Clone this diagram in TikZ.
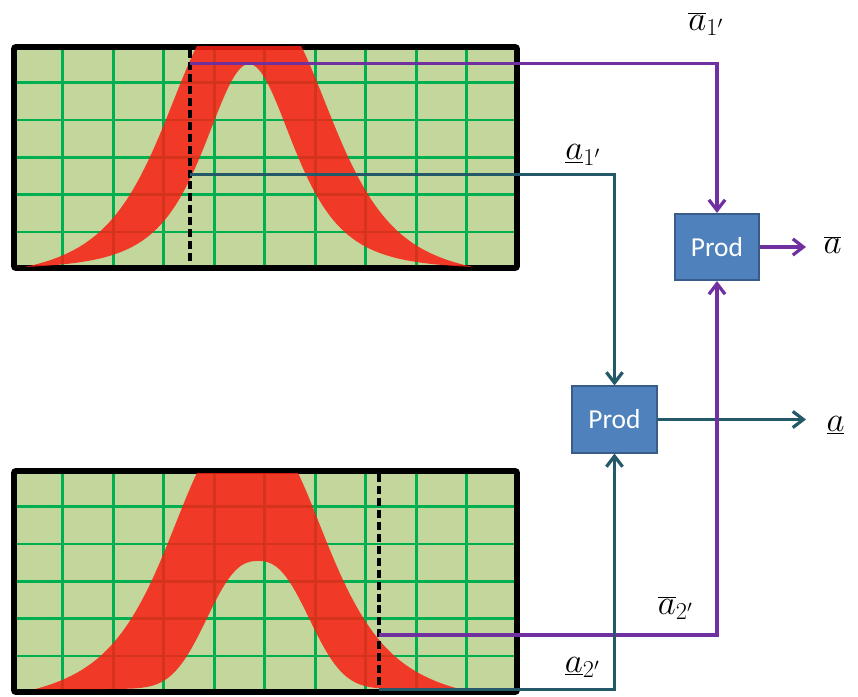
\documentclass[tikz,border=0pt]{standalone}
\usepackage{fontspec}
\newfontfamily\prodfont{Carlito}
\usetikzlibrary{arrows.meta}
\definecolor{gridbg}{RGB}{195,214,155}
\definecolor{gridgreen}{RGB}{0,176,80}
\definecolor{bandred}{RGB}{250,30,20}
\definecolor{lnpurple}{RGB}{112,48,160}
\definecolor{lnteal}{RGB}{35,89,104}
\definecolor{boxfill}{RGB}{79,129,189}
\definecolor{boxline}{RGB}{56,93,138}
% outer edge of a band: flat top, heavy tails
% #1 = offset from centre, #2 = tail end, #3 = half width of the top
\pgfmathdeclarefunction{outerbell}{3}{%
	\pgfmathsetmacro\bellu{min(max(abs(#1)-#3,0),#2)}%
	\pgfmathparse{250/(1+(\bellu/132.3)^2)^3*(1-(\bellu/#2)^6)}}
\begin{document}
\begin{tikzpicture}[x=0.025cm,y=-0.025cm,
		>={Straight Barb[length=7.5pt,width=11.5pt]},
		frame/.style={line width=4.2pt,rounded corners=1.5pt},
		gridline/.style={gridgreen,line width=1.9pt},
		band/.style={fill=bandred,fill opacity=.85},
		cursor/.style={line width=2.3pt,dash pattern=on 5.7pt off 2.8pt},
		upper/.style={lnpurple,line width=2.3pt},
		lower/.style={lnteal,line width=2.3pt},
		prodbox/.style={draw=boxline,line width=1.4pt,fill=boxfill,text=white,
			minimum width=60pt,minimum height=47pt,font={\prodfont\fontsize{19.5}{23}\selectfont}},
		lbl/.style={inner sep=0pt,font=\fontsize{23}{27}\selectfont}]
		\useasboundingbox (0,0) rectangle (858,697);
		% the two scope screens
		\foreach \oy in {0,424}{
			\fill[gridbg] (14,47+\oy) rectangle (517,268+\oy);
			\foreach \i in {1,...,9} \draw[gridline] (12.2+50.5*\i,47+\oy)--(12.2+50.5*\i,268+\oy);
			\foreach \j in {1,...,5} \draw[gridline] (14,45.4+37.3*\j+\oy)--(517,45.4+37.3*\j+\oy);
			\draw[frame] (14,47+\oy) rectangle (517,268+\oy);
		}
		\begin{scope}
		\clip (14,46) rectangle (517,268);
		\fill[band] plot[domain=25:473,samples=181] (\x,{267-outerbell(\x-249,199,25)})
			-- plot[domain=473:25,samples=181] (\x,{267-(206/(1+((\x-249)/83)^2)^2-3)}) -- cycle;
		\end{scope}
		\begin{scope}
		\clip (14,473.3) rectangle (517,689.5);
		\fill[band] plot[domain=35.5:459.5,samples=181] (\x,{689-outerbell(\x-247.5,191,21)})
			-- plot[domain=459.5:35.5,samples=181] (\x,{689-128*exp(-(abs(\x-258)/63+.001)^2.5)}) -- cycle;
		\end{scope}
		\draw[cursor] (190,50)--(190,265);
		\draw[cursor] (379,474)--(379,689);
		\coordinate (c1u) at (190,63.7);
		\coordinate (c1l) at (190,174.7);
		\coordinate (c2u) at (379,635);
		\coordinate (c2l) at (379,689.3);
		\node[prodbox] (p1) at (717,247) {Prod};
		\node[prodbox] (p2) at (614.5,419.5) {Prod};
		\coordinate (o1) at (806,247);
		\coordinate (o2) at (806,419.5);
		\draw[upper,->] (c1u) -| (p1.north);
		\draw[lower,->] (c1l) -| (p2.north);
		\draw[lower,->] (p2.east) -- (o2);
		\draw[upper,->] (p1.east) -- (o1);
		\draw[upper,->] (c2u) -| (p1.south);
		\draw[lower,->] (c2l) -| (p2.south);
		\node[lbl] (l1u) at (706,24) {$\overline{a}_{1'}$};
		\node[lbl] (l1l) at (583,155) {$\underline{a}_{1'}$};
		\node[lbl] (lou) at (832.5,245) {$\overline{a}$};
		\node[lbl] (lol) at (835.5,425) {$\underline{a}$};
		\node[lbl] (l2u) at (675.5,608) {$\overline{a}_{2'}$};
		\node[lbl] (l2l) at (582.5,667.5) {$\underline{a}_{2'}$};
		\end{tikzpicture}
\end{document}
